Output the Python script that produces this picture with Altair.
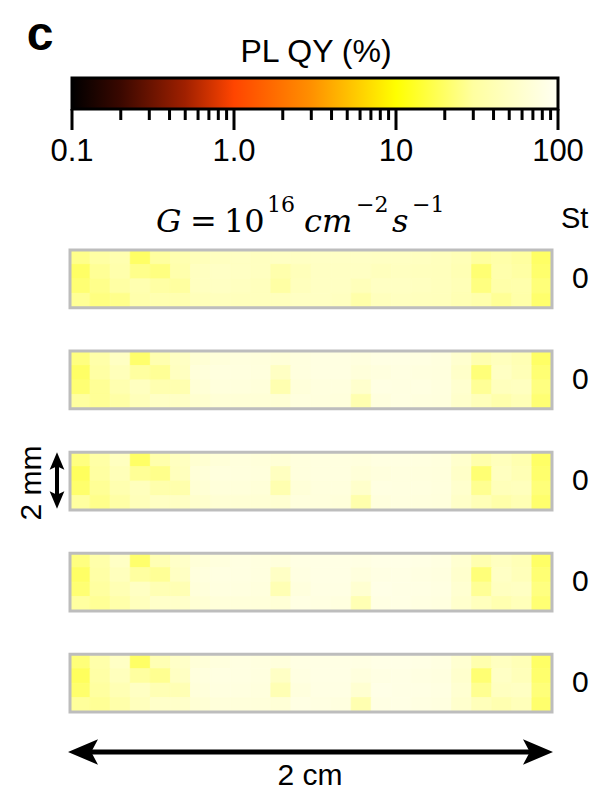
import math
import altair as alt
import pandas as pd

# ---------------- data ----------------
cb_values = [0.1, 0.2, 0.5, 1, 3, 6, 10, 30, 100]
cb_colors = ["#000000", "#3a0800", "#a02000", "#ff4500", "#ff9000",
             "#ffd000", "#ffff00", "#ffffa0", "#fffff2"]
major_ticks = [0.1, 1, 10, 100]
major_labels = ["0.1", "1.0", "10", "100"]
minor_ticks = [0.2, 0.3, 0.4, 0.5, 0.6, 0.7, 0.8, 0.9,
               2, 3, 4, 5, 6, 7, 8, 9,
               20, 30, 40, 50, 60, 70, 80, 90]
cb_title = "PL QY (%)"
panel_label = "c"
header_label = "St"
strip_labels = ["0", "0", "0", "0", "0"]

# PL QY (%) maps, 4 rows x 24 columns per strip (row 0 = top)
strip1 = [
    [26, 32, 38, 20, 30, 38, 44, 48, 50, 48, 50, 50, 52, 52, 52, 50, 50, 48, 46, 42, 30, 34, 30, 20],
    [20, 28, 36, 26, 24, 36, 48, 52, 50, 48, 36, 44, 50, 50, 50, 46, 48, 46, 45, 40, 22, 36, 32, 21],
    [22, 26, 32, 38, 32, 30, 48, 50, 48, 46, 32, 46, 50, 50, 44, 50, 50, 48, 46, 42, 24, 34, 36, 23],
    [28, 24, 26, 36, 38, 38, 44, 46, 45, 46, 46, 50, 50, 48, 34, 46, 48, 46, 45, 40, 36, 28, 34, 21],
]
strip2 = [
    [24, 34, 50, 21, 38, 50, 64, 70, 74, 72, 68, 75, 78, 78, 75, 80, 80, 78, 75, 60, 38, 46, 40, 20],
    [20, 32, 44, 30, 28, 48, 70, 75, 75, 74, 50, 75, 78, 78, 70, 75, 78, 75, 74, 55, 23, 50, 42, 22],
    [22, 28, 38, 48, 38, 38, 66, 72, 72, 70, 38, 70, 75, 75, 58, 80, 78, 78, 75, 60, 28, 46, 48, 24],
    [30, 28, 33, 44, 52, 52, 60, 66, 66, 66, 64, 75, 74, 72, 38, 75, 78, 75, 74, 56, 44, 36, 42, 22],
]
strip3 = [
    [24, 33, 48, 20, 36, 48, 62, 68, 72, 70, 66, 74, 76, 76, 74, 78, 78, 76, 74, 58, 36, 45, 38, 20],
    [19, 31, 43, 28, 26, 46, 68, 74, 74, 72, 48, 74, 76, 76, 68, 74, 76, 74, 72, 54, 22, 48, 41, 21],
    [21, 28, 38, 46, 36, 36, 64, 70, 70, 68, 38, 68, 74, 74, 56, 78, 77, 76, 74, 58, 27, 44, 46, 23],
    [30, 26, 33, 44, 50, 50, 58, 64, 64, 64, 62, 74, 72, 70, 36, 74, 76, 74, 72, 54, 42, 34, 40, 21],
]
strip4 = [
    [24, 35, 52, 21, 40, 54, 68, 74, 78, 76, 72, 80, 82, 82, 80, 84, 84, 82, 78, 62, 38, 48, 42, 20],
    [20, 33, 46, 30, 28, 50, 74, 78, 78, 76, 52, 78, 82, 82, 74, 80, 82, 78, 76, 58, 23, 52, 44, 22],
    [22, 30, 40, 50, 40, 40, 70, 76, 76, 74, 40, 74, 80, 80, 62, 84, 82, 80, 78, 62, 28, 48, 50, 24],
    [30, 28, 35, 46, 55, 55, 64, 70, 70, 70, 66, 80, 78, 76, 40, 80, 82, 78, 76, 58, 46, 38, 44, 22],
]
strip5 = [
    [23, 35, 52, 20, 40, 54, 68, 74, 78, 76, 72, 80, 82, 82, 80, 84, 84, 82, 78, 62, 37, 48, 42, 20],
    [19, 33, 46, 30, 27, 50, 74, 78, 78, 76, 52, 78, 82, 82, 74, 80, 82, 78, 76, 58, 22, 52, 44, 21],
    [21, 30, 40, 50, 40, 40, 70, 76, 76, 74, 40, 74, 80, 80, 62, 84, 82, 80, 78, 62, 27, 48, 50, 23],
    [29, 28, 35, 46, 55, 55, 64, 70, 70, 70, 66, 80, 78, 76, 38, 80, 82, 78, 76, 58, 44, 38, 44, 21],
]
strips = [strip1, strip2, strip3, strip4, strip5]

# ---------------- tables ----------------
NROW = 4
NCOL = 24
PITCH = 7
rows = []
for s, grid in enumerate(strips):
    for r, line in enumerate(grid):
        for c, v in enumerate(line):
            rows.append({"strip": s, "row": r, "col": c, "v": v})
cells = pd.DataFrame(rows)
strip_df = pd.DataFrame({"strip": list(range(len(strips))), "lab": strip_labels})

FONT = "Liberation Sans"
SERIF = "DejaVu Serif"
one = pd.DataFrame({"a": [0]})

# ---------------- colour bar ----------------
lmin, lmax = math.log10(cb_values[0]), math.log10(cb_values[-1])
stops = [alt.GradientStop(color=c, offset=(math.log10(v) - lmin) / (lmax - lmin))
         for v, c in zip(cb_values, cb_colors)]
grad = alt.LinearGradient(gradient="linear", stops=stops, x1=0, x2=1, y1=0, y2=0)


def xcb():
    return alt.Scale(type="log", domain=[0.1, 100], range=[72, 558], nice=False)


cbar = alt.Chart(pd.DataFrame({"lo": [0.1], "hi": [100]})).mark_rect(
    fill=grad, stroke="black", strokeWidth=3
).encode(
    x=alt.X("lo:Q", scale=xcb(), axis=None), x2="hi:Q",
    y=alt.value(78), y2=alt.value(109)
)
major = alt.Chart(pd.DataFrame({"t": major_ticks, "lab": major_labels})).mark_rule(
    color="black", strokeWidth=3
).encode(x=alt.X("t:Q", scale=xcb(), axis=None), y=alt.value(109), y2=alt.value(130))
minor = alt.Chart(pd.DataFrame({"t": minor_ticks})).mark_rule(
    color="black", strokeWidth=3
).encode(x=alt.X("t:Q", scale=xcb(), axis=None), y=alt.value(109), y2=alt.value(120))
ticklab = alt.Chart(pd.DataFrame({"t": major_ticks, "lab": major_labels})).mark_text(
    font=FONT, fontSize=31, align="center", baseline="middle", color="black"
).encode(x=alt.X("t:Q", scale=xcb(), axis=None), y=alt.value(152), text="lab:N")


def txt(s, x, y, size, font=FONT, style="normal", weight="normal",
        align="center", angle=0):
    return alt.Chart(one).mark_text(
        text=s, font=font, fontSize=size, fontStyle=style, fontWeight=weight,
        align=align, baseline="middle", color="black", angle=angle
    ).encode(x=alt.value(x), y=alt.value(y))


# ---------------- strips ----------------
def xs():
    return alt.Scale(domain=[0, NCOL], range=[70, 552], nice=False, zero=False)


def ys():
    return alt.Scale(domain=[0, PITCH * 4 + NROW], range=[250, 712], nice=False, zero=False)


cscale = alt.Scale(type="log", domain=cb_values, range=cb_colors, interpolate="rgb")

heat = alt.Chart(cells).transform_calculate(
    x0="datum.col", x1="datum.col + 1",
    y0=f"datum.strip * {PITCH} + datum.row", y1=f"datum.strip * {PITCH} + datum.row + 1"
).mark_rect(strokeWidth=0.8).encode(
    x=alt.X("x0:Q", scale=xs(), axis=None), x2="x1:Q",
    y=alt.Y("y0:Q", scale=ys(), axis=None), y2="y1:Q",
    color=alt.Color("v:Q", scale=cscale, legend=None),
    stroke=alt.Stroke("v:Q", scale=cscale, legend=None),
)
border = alt.Chart(strip_df).transform_calculate(
    x0="0", x1=str(NCOL),
    y0=f"datum.strip * {PITCH}", y1=f"datum.strip * {PITCH} + {NROW}"
).mark_rect(fill="white", fillOpacity=0, stroke="#bdbdbd", strokeWidth=3).encode(
    x=alt.X("x0:Q", scale=xs(), axis=None), x2="x1:Q",
    y=alt.Y("y0:Q", scale=ys(), axis=None), y2="y1:Q",
)
slabels = alt.Chart(strip_df).transform_calculate(
    yc=f"datum.strip * {PITCH} + {NROW / 2}"
).mark_text(font=FONT, fontSize=30, align="left", baseline="middle", color="black").encode(
    x=alt.value(572), y=alt.Y("yc:Q", scale=ys(), axis=None), text="lab:N"
)

# ---------------- arrows ----------------
left_head = "M -1 0 L 1 -0.85 L 0.55 0 L 1 0.85 Z"
right_head = "M 1 0 L -1 -0.85 L -0.55 0 L -1 0.85 Z"
up_head = "M 0 -1 L 0.85 1 L 0 0.6 L -0.85 1 Z"
down_head = "M 0 1 L 0.85 -1 L 0 -0.6 L -0.85 -1 Z"

hshaft = alt.Chart(one).mark_rule(color="black", strokeWidth=5).encode(
    x=alt.value(82), x2=alt.value(540), y=alt.value(752))
hl = alt.Chart(one).mark_point(shape=left_head, filled=True, color="black", opacity=1, size=900).encode(
    x=alt.value(83), y=alt.value(752))
hr = alt.Chart(one).mark_point(shape=right_head, filled=True, color="black", opacity=1, size=900).encode(
    x=alt.value(538), y=alt.value(752))
vshaft = alt.Chart(one).mark_rule(color="black", strokeWidth=4).encode(
    x=alt.value(57), y=alt.value(462), y2=alt.value(500))
vu = alt.Chart(one).mark_point(shape=up_head, filled=True, color="black", opacity=1, size=300).encode(
    x=alt.value(57), y=alt.value(461))
vd = alt.Chart(one).mark_point(shape=down_head, filled=True, color="black", opacity=1, size=300).encode(
    x=alt.value(57), y=alt.value(500))

# ---------------- texts ----------------
texts = [
    txt(panel_label, 40, 36, 48, weight="bold"),
    txt(cb_title, 316, 52, 32),
    txt(header_label, 561, 219, 29, align="left"),
    txt("2 mm", 32, 483, 30, angle=270),
    txt("2 cm", 310, 776, 30),
    # G = 10^16 cm^-2 s^-1
    txt("G", 156, 222, 32, font=SERIF, style="italic", align="left"),
    txt("=", 190, 222, 32, font=SERIF, align="left"),
    txt("10", 224, 222, 32, font=SERIF, align="left"),
    txt("16", 267, 205, 22, font=SERIF, align="left"),
    txt("cm", 304, 222, 32, font=SERIF, style="italic", align="left"),
    txt("\u22122", 356, 205, 22, font=SERIF, align="left"),
    txt("s", 392, 222, 32, font=SERIF, style="italic", align="left"),
    txt("\u22121", 412, 205, 22, font=SERIF, align="left"),
]

chart = alt.layer(
    cbar, minor, major, ticklab, heat, border, slabels,
    hshaft, hl, hr, vshaft, vu, vd, *texts
).resolve_scale(
    x="independent", y="independent", color="independent", stroke="independent"
).properties(
    width=591, height=793, padding=0,
    autosize=alt.AutoSizeParams(type="none"),
    background="white",
).configure_view(stroke=None)

chart.save("out.html", embed_options={"renderer": "svg", "actions": False})
